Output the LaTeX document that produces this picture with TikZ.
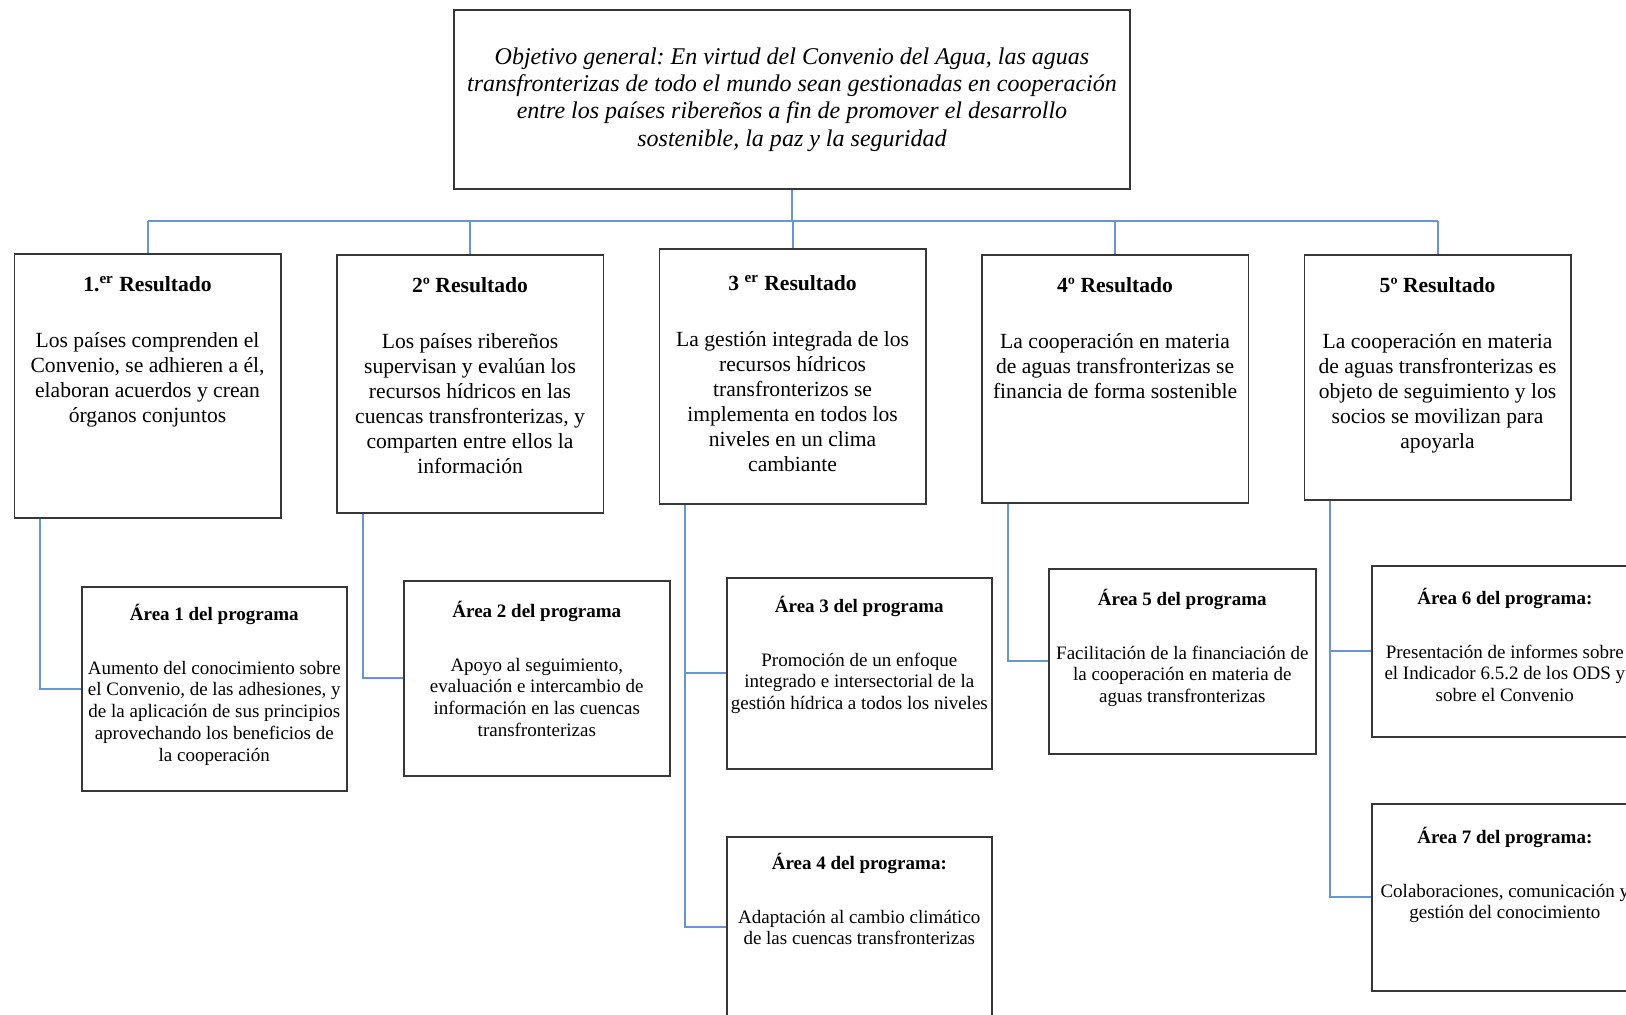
\documentclass[tikz,border=0pt]{standalone}
\usepackage{fontspec}
\setmainfont{Liberation Serif}
\frenchspacing
\definecolor{connc}{RGB}{104,150,208}
\definecolor{boxline}{RGB}{55,55,55}
\tikzset{
  boxnode/.style={draw=boxline, line width=0.8pt, inner sep=0pt, anchor=north west},
  conn/.style={draw=connc, line width=1pt},
  rtext/.style={anchor=north, align=center, inner sep=0pt, font=\fontsize{10.8pt}{12.45pt}\selectfont},
  atext/.style={anchor=north, align=center, inner sep=0pt, font=\fontsize{9.5pt}{10.9pt}\selectfont},
}
\begin{document}
\begin{tikzpicture}[x=0.5pt,y=-0.5pt]
\useasboundingbox (0,0) rectangle (1626,1014);
\clip (0,0) rectangle (1626,1014);
\fill[white] (0,0) rectangle (1626,1014);

% top box
\node[draw=boxline, line width=0.8pt, minimum width=338pt, minimum height=89.5pt, align=center,
  font=\itshape\fontsize{12pt}{13.65pt}\selectfont] (top) at (792,99.5)
  {Objetivo general: En virtud del Convenio del Agua, las aguas\\
   transfronterizas de todo el mundo sean gestionadas en cooperación\\
   entre los países ribereños a fin de promover el desarrollo\\
   sostenible, la paz y la seguridad};

% result boxes
\node[boxnode, minimum width=133.25pt, minimum height=132pt] (r1) at (13.5,253) {};
\node[boxnode, minimum width=133.25pt, minimum height=129pt] (r2) at (336,254) {};
\node[boxnode, minimum width=133.25pt, minimum height=127.5pt] (r3) at (658.5,248) {};
\node[boxnode, minimum width=133.25pt, minimum height=124pt] (r4) at (981,254) {};
\node[boxnode, minimum width=133.25pt, minimum height=122.5pt] (r5) at (1303.5,254) {};

% area boxes
\node[boxnode, minimum width=132.5pt, minimum height=102pt] (a1) at (81,586) {};
\node[boxnode, minimum width=133pt, minimum height=97.5pt] (a2) at (403,580) {};
\node[boxnode, minimum width=132.5pt, minimum height=95.5pt] (a3) at (726,577) {};
\node[boxnode, minimum width=132.5pt, minimum height=90pt] (a4) at (726,836) {};
\node[boxnode, minimum width=133.5pt, minimum height=92.5pt] (a5) at (1048,568) {};
\node[boxnode, minimum width=133pt, minimum height=85.5pt] (a6) at (1371,565) {};
\node[boxnode, minimum width=133pt, minimum height=93.5pt] (a7) at (1371,803) {};

% connectors
\coordinate (bus) at (792,221);
\draw[conn] (top.south) -- (top.south |- bus);
\draw[conn] (r1.north |- bus) -- (r5.north |- bus);
\foreach \r in {r1,r2,r3,r4,r5} \draw[conn] (\r.north |- bus) -- (\r.north);
\draw[conn] ([xshift=13.25pt]r1.south west) |- (a1.west);
\draw[conn] ([xshift=13.5pt]r2.south west) |- (a2.west);
\draw[conn] ([xshift=13.25pt]r3.south west) |- (a3.west);
\draw[conn] ([xshift=13.25pt]r3.south west) |- (a4.west);
\draw[conn] ([xshift=13.5pt]r4.south west) |- (a5.west);
\draw[conn] ([xshift=13.25pt]r5.south west) |- (a6.west);
\draw[conn] ([xshift=13.25pt]r5.south west) |- (a7.west);

% result texts
\node[rtext] (t1) at ([yshift=-10.5pt]r1.north) {\strut\textbf{1.\textsuperscript{er} Resultado}\\[15.5pt]
  Los países comprenden el\\ Convenio, se adhieren a él,\\ elaboran acuerdos y crean\\ órganos conjuntos};
\node[rtext] (t2) at ([yshift=-10.5pt]r2.north) {\strut\textbf{2º Resultado}\\[15.5pt]
  Los países ribereños\\ supervisan y evalúan los\\ recursos hídricos en las\\ cuencas transfronterizas, y\\ comparten entre ellos la\\ información};
\node[rtext] (t3) at ([yshift=-12.5pt]r3.north) {\strut\textbf{3 \textsuperscript{er} Resultado}\\[15.5pt]
  La gestión integrada de los\\ recursos hídricos\\ transfronterizos se\\ implementa en todos los\\ niveles en un clima\\ cambiante};
\node[rtext] (t4) at ([yshift=-10.5pt]r4.north) {\strut\textbf{4º Resultado}\\[15.5pt]
  La cooperación en materia\\ de aguas transfronterizas se\\ financia de forma sostenible};
\node[rtext] (t5) at ([yshift=-10.5pt]r5.north) {\strut\textbf{5º Resultado}\\[15.5pt]
  La cooperación en materia\\ de aguas transfronterizas es\\ objeto de seguimiento y los\\ socios se movilizan para\\ apoyarla};

% area texts
\node[atext] (u1) at ([yshift=-9pt]a1.north) {\strut\textbf{Área 1 del programa}\\[15.8pt]
  Aumento del conocimiento sobre\\ el Convenio, de las adhesiones, y\\ de la aplicación de sus principios\\ aprovechando los beneficios de\\ la cooperación};
\node[atext] (u2) at ([yshift=-10.5pt]a2.north) {\strut\textbf{Área 2 del programa}\\[15.8pt]
  Apoyo al seguimiento,\\ evaluación e intercambio de\\ información en las cuencas\\ transfronterizas};
\node[atext] (u3) at ([yshift=-9.5pt]a3.north) {\strut\textbf{Área 3 del programa}\\[15.8pt]
  Promoción de un enfoque\\ integrado e intersectorial de la\\ gestión hídrica a todos los niveles};
\node[atext] (u4) at ([yshift=-8.5pt]a4.north) {\strut\textbf{Área 4 del programa:}\\[15.8pt]
  Adaptación al cambio climático\\ de las cuencas transfronterizas};
\node[atext] (u5) at ([yshift=-10.5pt]a5.north) {\strut\textbf{Área 5 del programa}\\[15.8pt]
  Facilitación de la financiación de\\ la cooperación en materia de\\ aguas transfronterizas};
\node[atext] (u6) at ([yshift=-11.5pt]a6.north) {\strut\textbf{Área 6 del programa:}\\[15.8pt]
  Presentación de informes sobre\\ el Indicador 6.5.2 de los ODS y\\ sobre el Convenio};
\node[atext] (u7) at ([yshift=-12pt]a7.north) {\strut\textbf{Área 7 del programa:}\\[15.8pt]
  Colaboraciones, comunicación y\\ gestión del conocimiento};
\end{tikzpicture}
\end{document}
